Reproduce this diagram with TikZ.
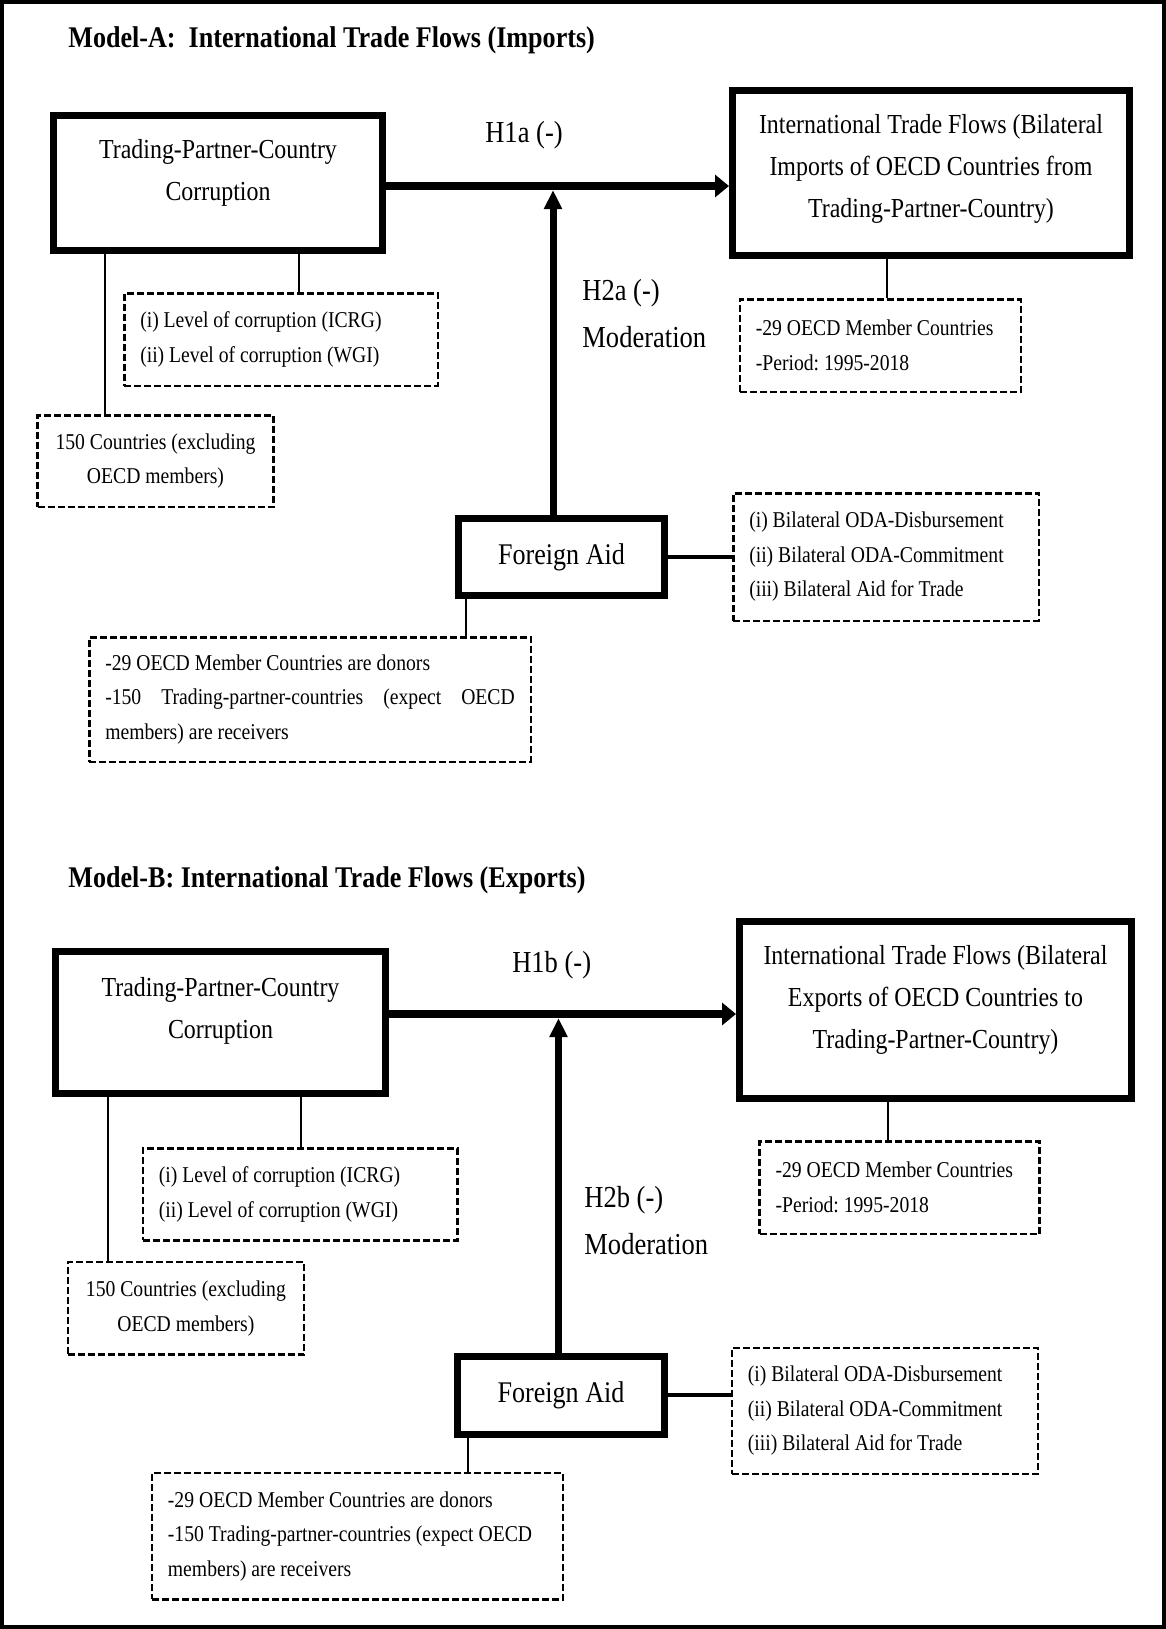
\documentclass[tikz,border=0pt]{standalone}
\usepackage{fontspec}
\setmainfont{Liberation Serif}[FakeStretch=0.87]
\usetikzlibrary{arrows.meta}
\frenchspacing

\begin{document}
\begin{tikzpicture}[x=0.5pt, y=-0.5pt,
  box/.style={draw, line width=3.5pt, inner sep=0pt},
  boxtext/.style={align=center, font=\fontsize{13.75}{21}\selectfont},
  aid/.style={box, font=\fontsize{15}{18}\selectfont},
  note/.style={draw, line width=1.25pt, dash pattern=on 3.5pt off 1.5pt,
    inner xsep=8pt, inner ysep=0pt, align=flush left, font=\fontsize{11.3}{17.25}\selectfont},
  hyp/.style={align=left, inner sep=0pt, font=\fontsize{15.25}{23.5}\selectfont},
  head/.style={anchor=base west, inner sep=0pt, font=\fontsize{15}{18}\selectfont\bfseries},
  flow/.style={line width=4pt, -{Triangle[length=7pt,width=11pt]}},
  mod/.style={line width=3.5pt, shorten >=2pt, -{Triangle[length=9.5pt,width=8.5pt]}},
  link/.style={line width=1pt}]
  \useasboundingbox (0,0) rectangle (1166,1629);
  \draw[line width=2pt] (2,2) rectangle (1164,1627);

  % Model A
  \node[head] (titleA) at (68,47) {Model-A:\ \ International Trade Flows (Imports)};
  \node[box, minimum width=164.4pt, minimum height=67.6pt] (cpA) at (218,183) {};
  \node[boxtext] (cpAtext) at (218,173) {Trading-Partner-Country\\Corruption};
  \node[box, minimum width=198.5pt, minimum height=82.5pt] (tfA) at (931,172.7) {};
  \node[boxtext] (tfAtext) at (931,168.5) {International Trade Flows (Bilateral\\Imports of OECD Countries from\\Trading-Partner-Country)};
  \node[aid, minimum width=103pt, minimum height=38.5pt] (aidA) at (561.5,557) {Foreign Aid};
  \coordinate (jA) at (553,186);
  \node[hyp] (h1a) at (524,135) {H1a (-)};
  \node[hyp, anchor=west] (h2a) at (582,313.5) {H2a (-)\\Moderation};

  \node[note, text width=140.75pt, minimum height=46.25pt] (icrgA) at (281,339.5) {(i) Level of corruption (ICRG)\\(ii) Level of corruption (WGI)};
  \node[note, align=flush center, inner xsep=4pt, text width=110pt, minimum height=45.75pt] (ctyA) at (155.5,461) {150 Countries (excluding\\OECD members)};
  \node[note, text width=124.45pt, minimum height=46.25pt] (oecdA) at (880.3,345.5) {-29 OECD Member Countries\\-Period: 1995-2018};
  \node[note, text width=136.75pt, minimum height=63.75pt] (odaA) at (886,557) {(i) Bilateral ODA-Disbursement\\(ii) Bilateral ODA-Commitment\\(iii) Bilateral Aid for Trade};
  \node[note, align=justify, text width=204.75pt, minimum height=62.25pt] (donA) at (310,699.5) {-29 OECD Member Countries are donors\\-150 Trading-partner-countries (expect OECD\linebreak members) are receivers};

  \draw[flow] (cpA.east |- jA) -- (jA -| tfA.west);
  \draw[mod] (aidA.north -| jA) -- (jA);
  \draw[link] ([xshift=40.25pt]cpA.south) -- ([xshift=40.25pt]icrgA.north -| cpA.south);
  \draw[link] ([xshift=-56.5pt]cpA.south) -- ([xshift=-56.5pt]ctyA.north -| cpA.south);
  \draw[link] ([xshift=-22.2pt]tfA.south) -- ([xshift=-22.2pt]oecdA.north -| tfA.south);
  \draw[link, line width=2pt] (aidA.east) -- (aidA.east -| odaA.west);
  \draw[link] ([xshift=-48pt]aidA.south) -- ([xshift=-48pt]donA.north -| aidA.south);

  % Model B
  \node[head] (titleB) at (68,887) {Model-B: International Trade Flows (Exports)};
  \node[box, minimum width=165.3pt, minimum height=71pt] (cpB) at (220.5,1022.2) {};
  \node[boxtext] (cpBtext) at (220.5,1011) {Trading-Partner-Country\\Corruption};
  \node[box, minimum width=196pt, minimum height=88.5pt] (tfB) at (935.5,1009.7) {};
  \node[boxtext] (tfBtext) at (935.5,1000) {International Trade Flows (Bilateral\\Exports of OECD Countries to\\Trading-Partner-Country)};
  \node[aid, minimum width=103.5pt, minimum height=39pt] (aidB) at (561,1395) {Foreign Aid};
  \coordinate (jB) at (558.5,1014);
  \node[hyp] (h1b) at (551.7,965) {H1b (-)};
  \node[hyp, anchor=west] (h2b) at (584,1220.5) {H2b (-)\\Moderation};

  \node[note, text width=141.4pt, minimum height=45.95pt] (icrgB) at (300.3,1194.5) {(i) Level of corruption (ICRG)\\(ii) Level of corruption (WGI)};
  \node[note, align=flush center, inner xsep=4pt, text width=110pt, minimum height=46.4pt] (ctyB) at (185.9,1308.3) {150 Countries (excluding\\OECD members)};
  \node[note, text width=123.95pt, minimum height=46.25pt] (oecdB) at (899.5,1187.5) {-29 OECD Member Countries\\-Period: 1995-2018};
  \node[note, text width=137.1pt, minimum height=62.9pt] (odaB) at (885,1411) {(i) Bilateral ODA-Disbursement\\(ii) Bilateral ODA-Commitment\\(iii) Bilateral Aid for Trade};
  \node[note, text width=189.55pt, minimum height=63.25pt] (donB) at (357.5,1536.2) {-29 OECD Member Countries are donors\\-150 Trading-partner-countries (expect OECD\\members) are receivers};

  \draw[flow] (cpB.east |- jB) -- (jB -| tfB.west);
  \draw[mod] (aidB.north -| jB) -- (jB);
  \draw[link] ([xshift=40.1pt]cpB.south) -- ([xshift=40.1pt]icrgB.north -| cpB.south);
  \draw[link] ([xshift=-56.1pt]cpB.south) -- ([xshift=-56.1pt]ctyB.north -| cpB.south);
  \draw[link] ([xshift=-23.6pt]tfB.south) -- ([xshift=-23.6pt]oecdB.north -| tfB.south);
  \draw[link, line width=2pt] (aidB.east) -- (aidB.east -| odaB.west);
  \draw[link] ([xshift=-46.75pt]aidB.south) -- ([xshift=-46.75pt]donB.north -| aidB.south);
\end{tikzpicture}
\end{document}
